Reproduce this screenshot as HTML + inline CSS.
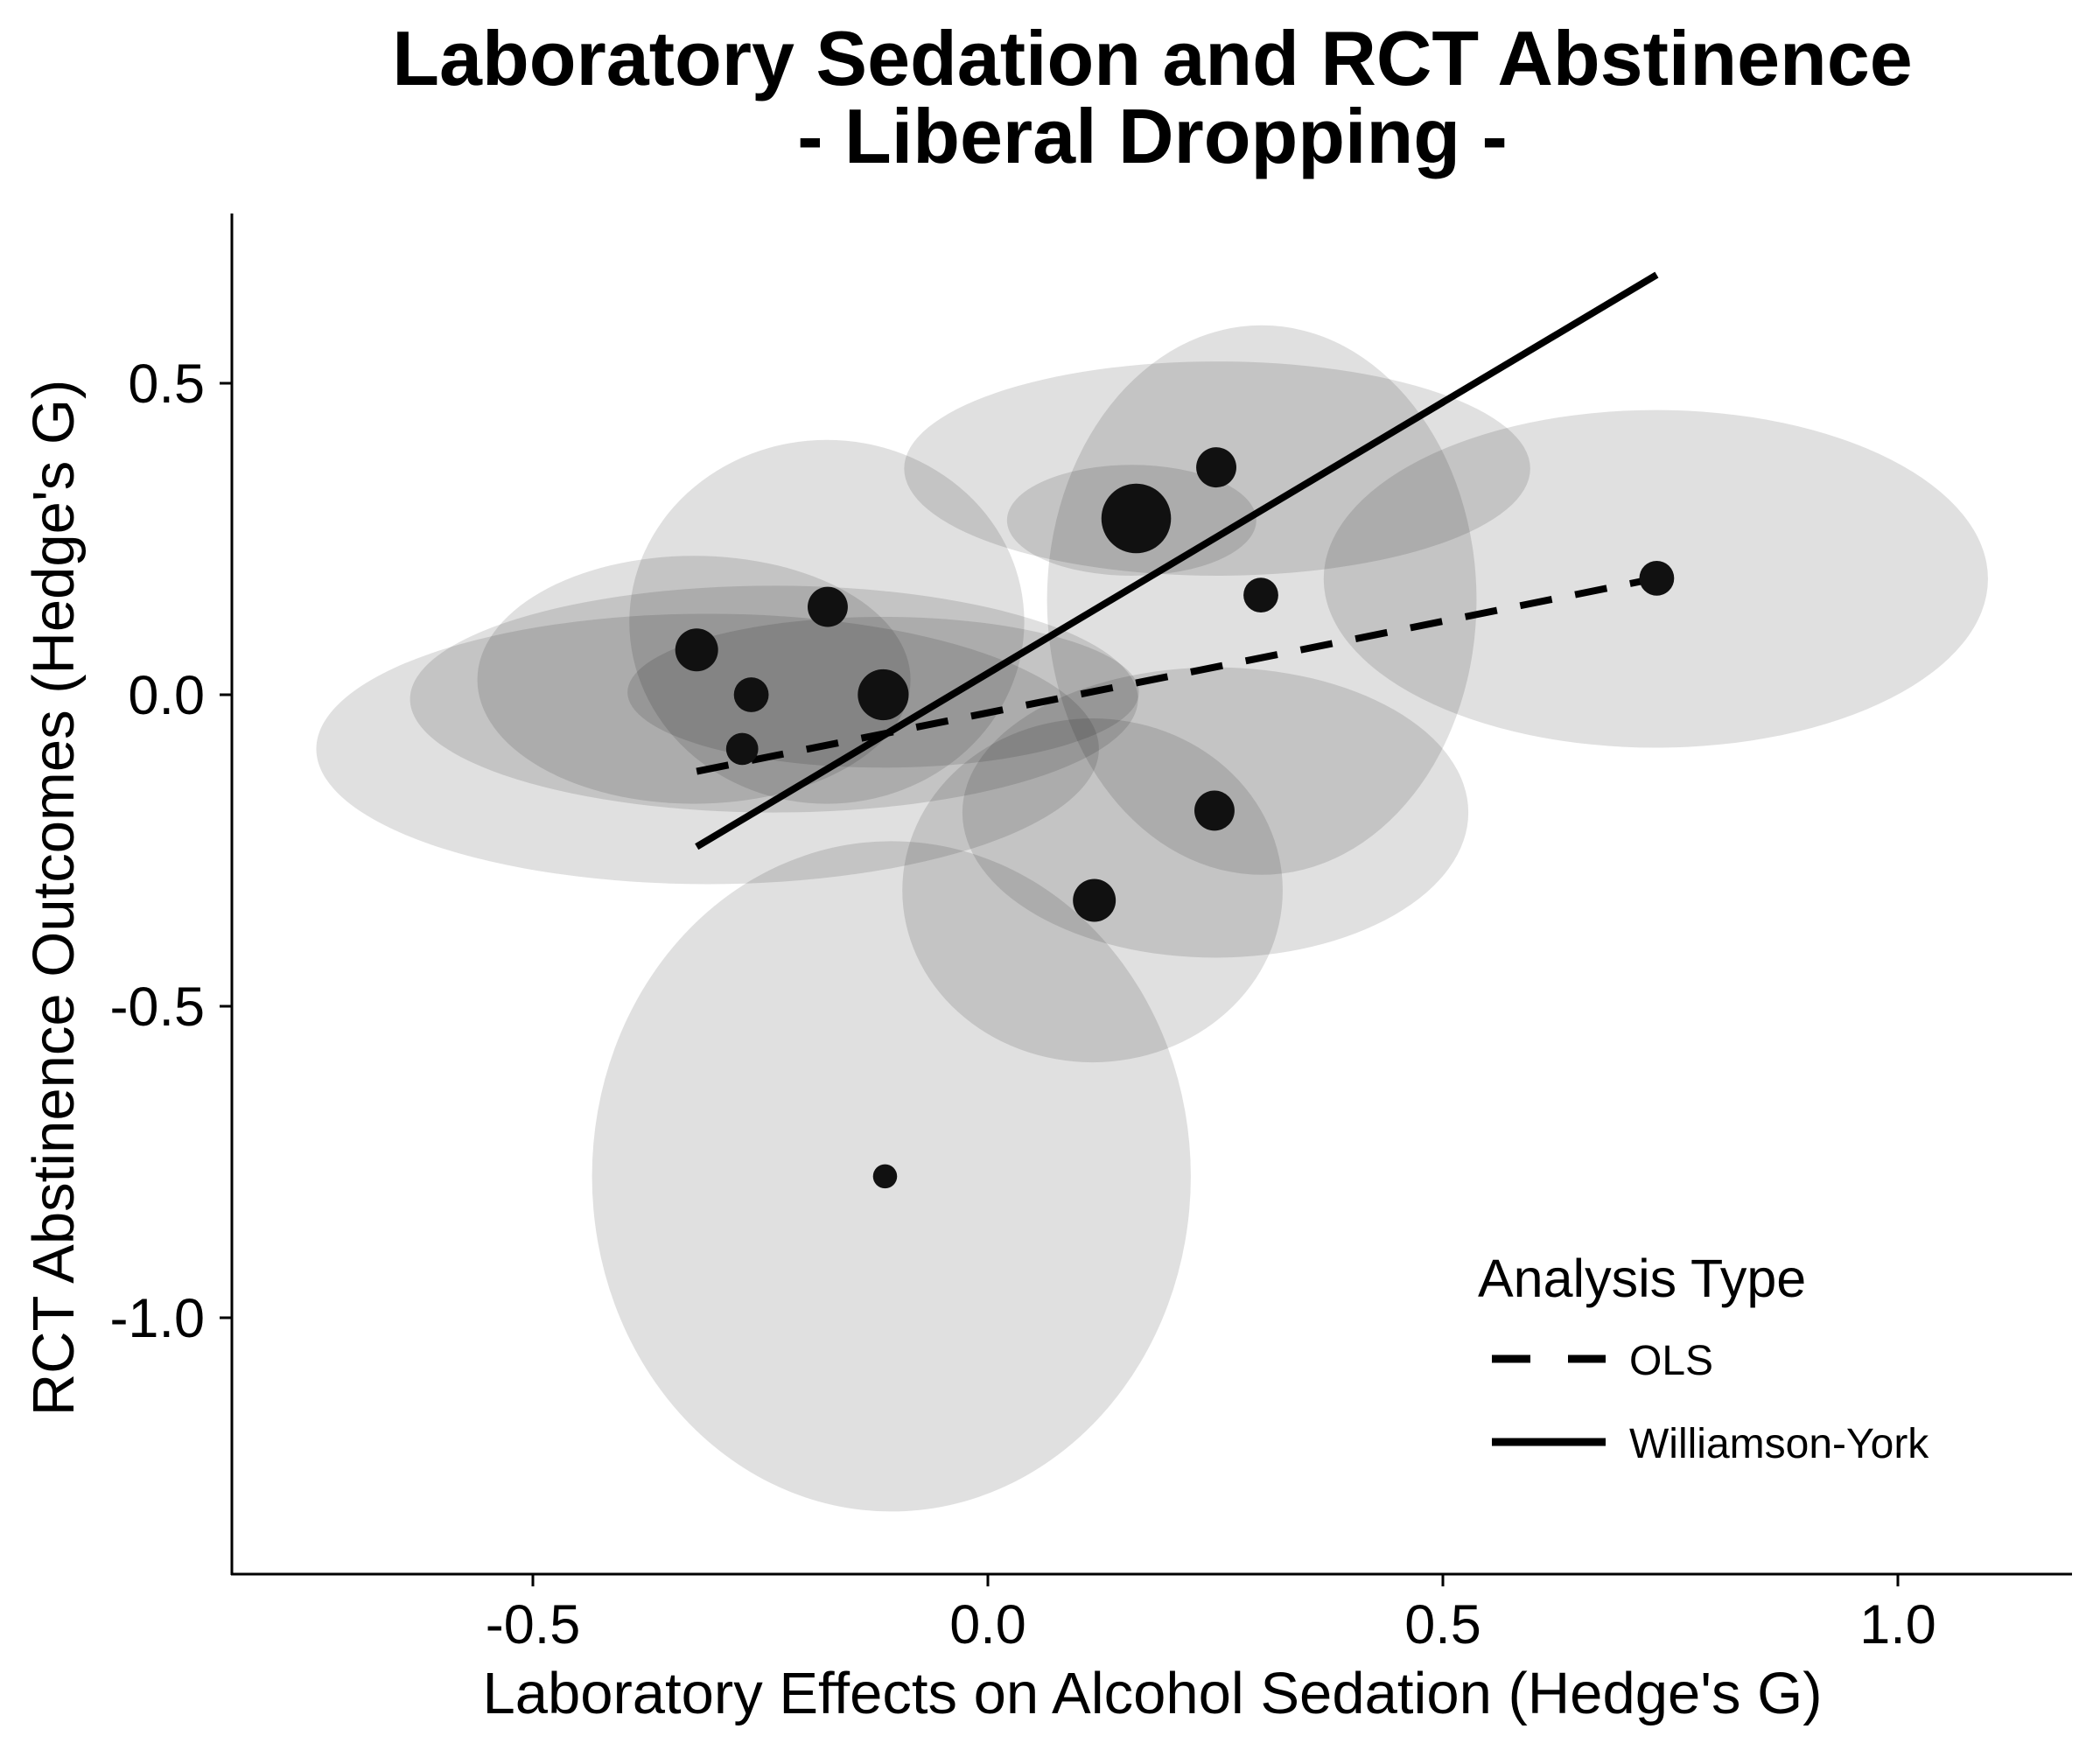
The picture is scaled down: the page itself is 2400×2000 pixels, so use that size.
<!DOCTYPE html>
<html><head><meta charset="utf-8"><style>
html,body{margin:0;padding:0;background:#fff;}
svg{display:block;font-family:"Liberation Sans",Arial,sans-serif;}
</style></head><body>
<svg id="chart" width="2400" height="2000" viewBox="0 0 2400 2000">
<g>
<text x="1317" y="97" font-size="88" font-weight="bold" text-anchor="middle">Laboratory Sedation and RCT Abstinence</text>
<text x="1317" y="186" font-size="88" font-weight="bold" text-anchor="middle">- Liberal Dropping -</text>
</g>
<g id="ellipses"></g>
<g id="lines"></g>
<g id="points"></g>
<g id="axes"></g>
<text x="1317" y="1958" font-size="67" text-anchor="middle">Laboratory Effects on Alcohol Sedation (Hedge's G)</text>
<text transform="translate(84,1026) rotate(-90)" font-size="67" text-anchor="middle">RCT Abstinence Outcomes (Hedge's G)</text>
<g>
<text x="1689" y="1482" font-size="61">Analysis Type</text>
<line x1="1705" y1="1553" x2="1835" y2="1553" stroke="#000" stroke-width="9" stroke-dasharray="44,43"/>
<text x="1862" y="1571" font-size="48">OLS</text>
<line x1="1705" y1="1648" x2="1835" y2="1648" stroke="#000" stroke-width="9"/>
<text x="1862" y="1666" font-size="48">Williamson-York</text>
</g>
</svg>
<script>
const ptX=[-0.32,-0.26,-0.27,-0.176,-0.115,-0.113,0.117,0.163,0.251,0.249,0.30,0.735];
const ptY=[0.072,0.0,-0.087,0.141,0.0,-0.773,-0.33,0.283,0.365,-0.186,0.16,0.187];
const ptSize=[16,13,12,15,19,9,16,26,15,15,13,13];
const elCx=[-0.308,-0.235,-0.323,-0.177,-0.115,-0.106,0.115,0.158,0.252,0.250,0.301,0.734];
const elCy=[-0.087,-0.007,0.024,0.117,0.004,-0.773,-0.314,0.280,0.363,-0.189,0.152,0.186];
const elRx=[0.430,0.400,0.238,0.217,0.281,0.329,0.209,0.137,0.344,0.278,0.236,0.365];
const elRy=[0.217,0.182,0.199,0.292,0.121,0.538,0.276,0.089,0.172,0.233,0.441,0.271];
const olsX=[-0.32,0.735];
const olsY=[-0.123,0.187];
const wyX=[-0.32,0.735];
const wyY=[-0.244,0.674];
const xTicks=[-0.5,0.0,0.5,1.0];
const xTickLabels=["-0.5","0.0","0.5","1.0"];
const yTicks=[0.5,0.0,-0.5,-1.0];
const yTickLabels=["0.5","0.0","-0.5","-1.0"];

const NS="http://www.w3.org/2000/svg";
const X0=1129,XS=1040,Y0=794,YS=712;
const L=265,R=2368,T=244,B=1799;
function sx(v){return X0+v*XS;}
function sy(v){return Y0-v*YS;}
function mk(tag,attrs,parent){const e=document.createElementNS(NS,tag);for(const k in attrs)e.setAttribute(k,attrs[k]);parent.appendChild(e);return e;}

const gE=document.getElementById('ellipses');
for(let i=0;i<elCx.length;i++){
  const e=mk('ellipse',{cx:sx(elCx[i]),cy:sy(elCy[i]),rx:elRx[i]*XS,ry:elRy[i]*YS,fill:'rgba(0,0,0,0.12)'},gE);
  
  
}
const gL=document.getElementById('lines');
const ols=mk('line',{x1:sx(olsX[0]),y1:sy(olsY[0]),x2:sx(olsX[1]),y2:sy(olsY[1]),stroke:'#000','stroke-width':8,'stroke-dasharray':'37,27'},gL);


const wy=mk('line',{x1:sx(wyX[0]),y1:sy(wyY[0]),x2:sx(wyX[1]),y2:sy(wyY[1]),stroke:'#000','stroke-width':8},gL);


const gP=document.getElementById('points');
for(let i=0;i<ptX.length;i++){
  const c=mk('circle',{cx:sx(ptX[i]),cy:sy(ptY[i]),r:ptSize[i]*1.53,fill:'#111'},gP);
  
  
}
const gA=document.getElementById('axes');
const xa=mk('line',{x1:L-1,y1:B,x2:R,y2:B,stroke:'#000','stroke-width':3},gA);


const ya=mk('line',{x1:L,y1:T,x2:L,y2:B+1,stroke:'#000','stroke-width':3},gA);


for(let i=0;i<xTicks.length;i++){
  const t=mk('line',{x1:sx(xTicks[i]),y1:B,x2:sx(xTicks[i]),y2:B+14,stroke:'#000','stroke-width':3},gA);
  
  
  const lb=mk('text',{x:sx(xTicks[i]),y:1878,'font-size':63,'text-anchor':'middle'},gA);
  lb.textContent=xTickLabels[i];
  
  
}
for(let i=0;i<yTicks.length;i++){
  const t=mk('line',{x1:L-14,y1:sy(yTicks[i]),x2:L,y2:sy(yTicks[i]),stroke:'#000','stroke-width':3},gA);
  
  
  const lb=mk('text',{x:234,y:sy(yTicks[i])+22,'font-size':63,'text-anchor':'end'},gA);
  lb.textContent=yTickLabels[i];
  
  
}
</script>
</body></html>
